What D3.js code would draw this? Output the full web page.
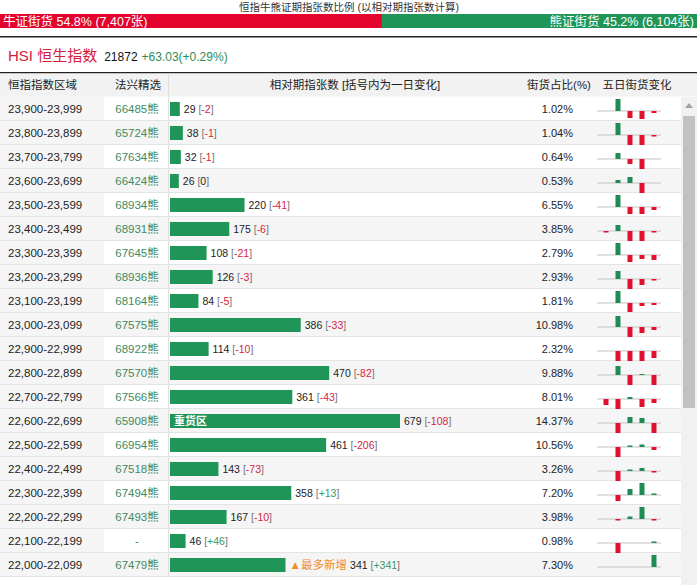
<!DOCTYPE html>
<html>
<head>
<meta charset="utf-8">
<script src="https://cdn.jsdelivr.net/npm/d3@7"></script>
<style>
  body { margin: 0; background: #fff; }
  svg { display: block; font-family: "Liberation Sans", Arial, "Noto Sans CJK SC", sans-serif; }
</style>
</head>
<body>
<svg id="chart"></svg>
<script>
// data
const bullPct = 54.8, bullCount = '7,407';
const bearPct = 45.2, bearCount = '6,104';
const hsiLast = '21872', hsiChange = '+63.03(+0.29%)';

const ranges = ['23,900-23,999', '23,800-23,899', '23,700-23,799', '23,600-23,699', '23,500-23,599',
  '23,400-23,499', '23,300-23,399', '23,200-23,299', '23,100-23,199', '23,000-23,099',
  '22,900-22,999', '22,800-22,899', '22,700-22,799', '22,600-22,699', '22,500-22,599',
  '22,400-22,499', '22,300-22,399', '22,200-22,299', '22,100-22,199', '22,000-22,099'];
const codes = ['66485', '65724', '67634', '66424', '68934', '68931', '67645', '68936', '68164', '67575',
  '68922', '67570', '67566', '65908', '66954', '67518', '67494', '67493', '-', '67479'];
const counts = [29, 38, 32, 26, 220, 175, 108, 126, 84, 386, 114, 470, 361, 679, 461, 143, 358, 167, 46, 341];
const changes = [-2, -1, -1, 0, -41, -6, -21, -3, -5, -33, -10, -82, -43, -108, -206, -73, 13, -10, 46, 341];
const shares = [1.02, 1.04, 0.64, 0.53, 6.55, 3.85, 2.79, 2.93, 1.81, 10.98,
  2.32, 9.88, 8.01, 14.37, 10.56, 3.26, 7.20, 3.98, 0.98, 7.30];
// five day changes (relative, as drawn)
const fiveDay = [
  [0, 12, -7, -8, -2],
  [0, 12, -11, -11, -1.5],
  [0, 6, -5, -12, 0],
  [0, 3, 6, -13, 0],
  [0, 12, -7, -7, -3],
  [-1.5, 6, -12, -13, -1.5],
  [0, 12, -7, -4, -5],
  [0, 8, -13, -6, -1.5],
  [0, 12, -9, -3, -2],
  [0, 11, -13, -6, -3],
  [0, -12, -10, -10, -7],
  [0, 9, -13, 1, -13],
  [-6, -11, 2, -8, -4],
  [0, -12, 6, 5, -10],
  [0, -12, 1.5, 2.5, -3],
  [0, -13, 1.5, 3, -1.5],
  [0, -6, 6, 12, 1.5],
  [0, -1.5, 2.5, 12, -1.5],
  [0, -12, 0, 0, 1.5],
  [0, 0, 0, 0, 12]
];
const headers = ['恒指指数区域', '法兴精选', '相对期指张数 [括号内为一日变化]', '街货占比(%)', '五日街货变化'];

const width = 697;
const height = 585;
const red = '#e4032c';
const green = '#1f9658';
const rowTop = 97;
const rowH = 24;
const tableRight = 681;

const svg = d3.select('#chart')
  .attr('width', width)
  .attr('height', height);

// top ratio bar
svg.append('text')
  .attr('x', 349).attr('y', 11)
  .attr('text-anchor', 'middle')
  .attr('font-size', 10.5).attr('fill', '#333')
  .text('恒指牛熊证期指张数比例 (以相对期指张数计算)');

const ratioX = d3.scaleLinear().domain([0, 100]).range([0, width]);
svg.append('rect')
  .attr('x', 0).attr('y', 14)
  .attr('width', ratioX(bullPct)).attr('height', 14)
  .attr('fill', red);
svg.append('rect')
  .attr('x', ratioX(bullPct)).attr('y', 14)
  .attr('width', ratioX(bearPct)).attr('height', 14)
  .attr('fill', green);
svg.append('text')
  .attr('x', 3).attr('y', 25.5)
  .attr('font-size', 12.5).attr('fill', '#fff')
  .text(`牛证街货 ${bullPct}% (${bullCount}张)`);
svg.append('text')
  .attr('x', width - 3).attr('y', 25.5)
  .attr('text-anchor', 'end')
  .attr('font-size', 12.5).attr('fill', '#fff')
  .text(`熊证街货 ${bearPct}% (${bearCount}张)`);

svg.append('rect').attr('x', 0).attr('y', 36).attr('width', width).attr('height', 1.5).attr('fill', '#222');

// index line
const idx = svg.append('text').attr('x', 8).attr('y', 61);
idx.append('tspan').attr('font-size', 15).attr('fill', '#d3203d').text('HSI 恒生指数');
idx.append('tspan').attr('dx', 7).attr('font-size', 12).attr('fill', '#111').text(hsiLast);
idx.append('tspan').attr('dx', 4).attr('font-size', 12).attr('fill', '#2d8c57').text(hsiChange);

// header
svg.append('rect').attr('x', 0).attr('y', 72).attr('width', width).attr('height', 1.5).attr('fill', '#222');
svg.append('rect').attr('x', 0).attr('y', 73.5).attr('width', width).attr('height', 23).attr('fill', '#f2f2f2');

const headerPos = [
  { x: 8, anchor: 'start' },
  { x: 138, anchor: 'middle' },
  { x: 355, anchor: 'middle' },
  { x: 559, anchor: 'middle' },
  { x: 637, anchor: 'middle' }
];
svg.selectAll('.hdr')
  .data(headers)
  .enter()
  .append('text')
  .attr('x', (d, i) => headerPos[i].x)
  .attr('y', 89)
  .attr('text-anchor', (d, i) => headerPos[i].anchor)
  .attr('font-size', 11.5)
  .attr('fill', '#222')
  .text(d => d);

// rows
const yScale = d3.scaleBand()
  .domain(d3.range(ranges.length))
  .range([rowTop, rowTop + rowH * ranges.length]);

const rows = svg.selectAll('.row')
  .data(ranges)
  .enter()
  .append('g')
  .attr('transform', (d, i) => `translate(0, ${yScale(i)})`);

rows.append('rect')
  .attr('x', 0).attr('y', 0)
  .attr('width', tableRight).attr('height', rowH)
  .attr('fill', (d, i) => i % 2 === 1 ? '#f5f5f5' : '#fff');
rows.append('rect')
  .attr('x', 0).attr('y', 0)
  .attr('width', 104).attr('height', rowH)
  .attr('fill', '#f5f5f5');
rows.append('rect')
  .attr('x', 0).attr('y', rowH - 1)
  .attr('width', tableRight).attr('height', 1)
  .attr('fill', '#e4e4e4');

svg.append('rect')
  .attr('x', 168).attr('y', 73.5)
  .attr('width', 1).attr('height', rowTop + rowH * ranges.length - 73.5)
  .attr('fill', '#e0e0e0');

rows.append('text')
  .attr('x', 8).attr('y', 16)
  .attr('font-size', 11.5).attr('fill', '#222')
  .text(d => d);

rows.append('text')
  .attr('x', 137).attr('y', 16)
  .attr('text-anchor', 'middle')
  .attr('font-size', 11.5).attr('fill', '#3f8a5f')
  .text((d, i) => codes[i] === '-' ? '-' : codes[i] + '熊');

// count bars
const xScale = d3.scaleLinear()
  .domain([0, d3.max(counts)])
  .range([0, 230]);
const barX = 170;
const heavy = d3.maxIndex(counts);
const mostNew = d3.maxIndex(changes);

rows.append('rect')
  .attr('x', barX).attr('y', 5)
  .attr('width', (d, i) => xScale(counts[i]))
  .attr('height', 14)
  .attr('fill', green);

rows.filter((d, i) => i === heavy)
  .append('text')
  .attr('x', barX + 4).attr('y', 16)
  .attr('font-size', 11).attr('font-weight', 'bold').attr('fill', '#fff')
  .text('重货区');

const label = rows.append('text')
  .attr('x', (d, i) => barX + xScale(counts[i]) + 4)
  .attr('y', 16)
  .attr('font-size', 10.5);
label.filter((d, i) => i === mostNew)
  .append('tspan').attr('fill', '#f08c2e').attr('font-size', 11.5).text('▲最多新增 ');
label.append('tspan').attr('fill', '#222').text((d, i) => counts[i] + ' ');
label.append('tspan').attr('fill', '#777').text('[');
label.append('tspan')
  .attr('fill', (d, i) => changes[i] < 0 ? '#d7243e' : changes[i] > 0 ? '#3a9a64' : '#222')
  .text((d, i) => changes[i] > 0 ? '+' + changes[i] : changes[i]);
label.append('tspan').attr('fill', '#777').text(']');

rows.append('text')
  .attr('x', 573).attr('y', 16)
  .attr('text-anchor', 'end')
  .attr('font-size', 11).attr('fill', '#222')
  .text((d, i) => shares[i].toFixed(2) + '%');

// five day sparklines
const dayX = d3.scaleBand().domain(d3.range(5)).range([600, 660]).paddingInner(0.58).paddingOuter(0.29);
const dayY = d3.scaleLinear().domain([-13, 13]).range([27, 1]);

rows.append('line')
  .attr('x1', 597).attr('x2', 661)
  .attr('y1', dayY(0)).attr('y2', dayY(0))
  .attr('stroke', '#c4c4c4').attr('stroke-width', 1.2);

rows.each(function (d, i) {
  d3.select(this).selectAll('.day')
    .data(fiveDay[i].map((v, k) => ({ v, k })).filter(e => e.v !== 0))
    .enter()
    .append('rect')
    .attr('x', e => dayX(e.k))
    .attr('width', 5)
    .attr('y', e => Math.min(dayY(e.v), dayY(0)))
    .attr('height', e => Math.abs(dayY(e.v) - dayY(0)))
    .attr('fill', e => e.v > 0 ? '#1e8c55' : '#e0102f');
});

// scrollbar
svg.append('rect').attr('x', tableRight).attr('y', rowTop).attr('width', width - tableRight).attr('height', height - rowTop).attr('fill', '#f1f1f1');
svg.append('rect').attr('x', 683).attr('y', 116).attr('width', 12).attr('height', 292).attr('fill', '#c1c1c1');
svg.append('path').attr('d', 'M689,103 L693,108 L685,108 Z').attr('fill', '#a3a3a3');
</script>
</body>
</html>
